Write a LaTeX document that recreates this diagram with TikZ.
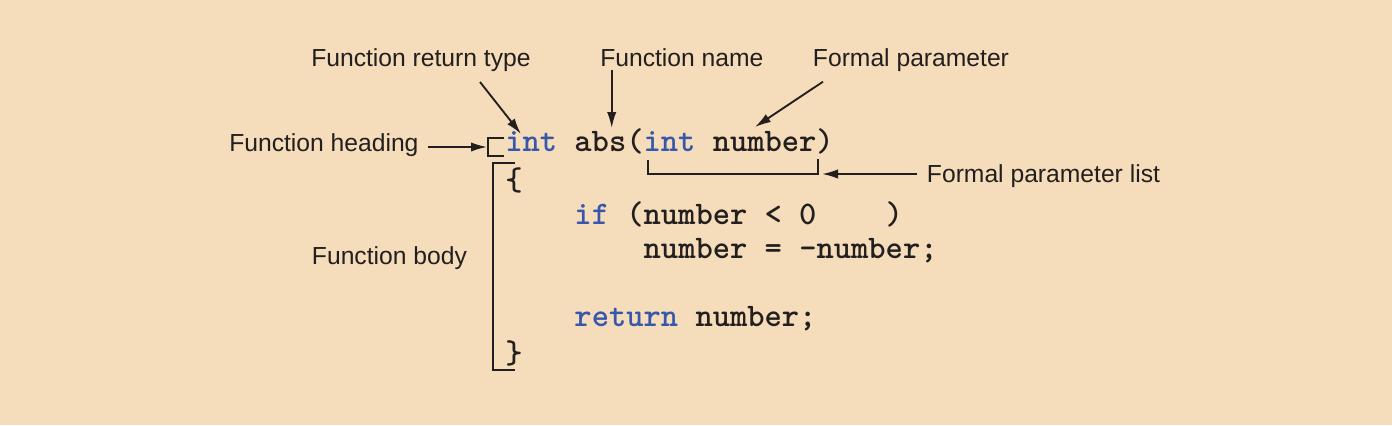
\documentclass[tikz,border=0pt]{standalone}
\usepackage{fontspec}
\setmainfont{Liberation Sans}
\usetikzlibrary{arrows.meta}
\definecolor{bg}{RGB}{245,220,187}
\definecolor{ink}{RGB}{35,31,30}
\definecolor{kw}{RGB}{55,88,170}
\newcommand{\kwd}[1]{\textcolor{kw}{#1}}
\tikzset{
  lbl/.style={anchor=base west,inner sep=0pt,text=ink,font=\fontsize{18.5}{22}\selectfont},
  code/.style={anchor=base west,inner sep=0pt,text=ink,font=\fontsize{24.7}{30}\ttfamily\bfseries},
  arr/.style={draw=ink,line width=1.4pt,-{Latex[length=12pt,width=7pt]}},
  brk/.style={draw=ink,line width=1.4pt},
}
\begin{document}
\begin{tikzpicture}[x=0.75pt,y=-0.75pt]
\fill[bg] (0,0) rectangle (1392,425);
\useasboundingbox (0,0) rectangle (1392,425);
% labels
\node[lbl] (rettype) at (311,66.7) {Function return type};
\node[lbl] (fname) at (600,66) {Function name};
\node[lbl] (fparam) at (812.7,66.7) {Formal parameter};
\node[lbl] (heading) at (229,151.7) {Function heading};
\node[lbl] (fplist) at (926.7,182.7) {Formal parameter list};
\node[lbl] (fbody) at (311.7,264) {Function body};
% code
\node[code] (l1) at (505,151.7) {\kwd{int} abs(\kwd{int} number)};
\node[code] (l2) at (505,190) {\{};
\node[code] (l3) at (574.2,224) {\kwd{if} (number < 0\ \ \ \ )};
\node[code] (l4) at (643.4,258.3) {number = -number;};
\node[code] (l5) at (574.2,326.7) {\kwd{return} number;};
\node[code] (l6) at (505,363) {\}};
% coordinates
\coordinate (rt-s) at (480,82);
\coordinate (rt-e) at (521,134);
\coordinate (fn-s) at (611.7,70);
\coordinate (fn-e) at (611.7,128);
\coordinate (fp-s) at (823,81.7);
\coordinate (fp-e) at (755,127);
\coordinate (hd-s) at (428,147);
\coordinate (hd-e) at (487,147);
\coordinate (pl-s) at (916.7,174);
\coordinate (pl-e) at (822,174);
% arrows
\draw[arr] (rt-s) -- (rt-e);
\draw[arr] (fn-s) -- (fn-e);
\draw[arr] (fp-s) -- (fp-e);
\draw[arr] (hd-s) -- (hd-e);
\draw[arr] (pl-s) -- (pl-e);
% brackets
\draw[brk] (504,137.7) -- (488,137.7) -- (488,156) -- (504,156);
\draw[brk] (647.7,160) -- (647.7,174) -- (817.7,174) -- (817.7,159);
\draw[brk] (515,163.3) -- (492.7,163.3) -- (492.7,370) -- (515,370);
\end{tikzpicture}
\end{document}
